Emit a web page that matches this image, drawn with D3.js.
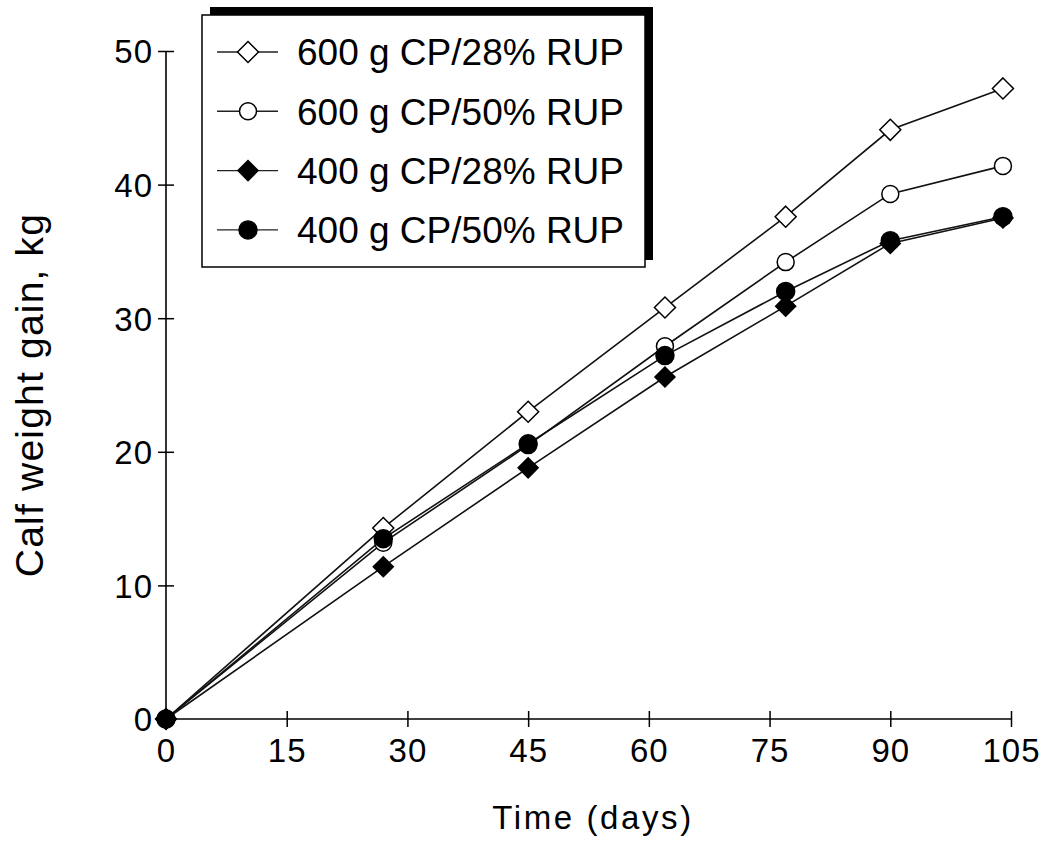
<!DOCTYPE html>
<html>
<head>
<meta charset="utf-8">
<script src="https://cdn.jsdelivr.net/npm/d3@7"></script>
<style>
  html, body { margin: 0; padding: 0; background: #fff; }
  svg { display: block; font-family: "Liberation Sans", Arial, Helvetica, sans-serif; }
</style>
</head>
<body>
<svg id="chart" width="1047" height="850"></svg>
<script>
// Sampling days and calf weight gain (kg) for each treatment
const days = [0, 27, 45, 62, 77, 90, 104];
const cp600rup28 = [0, 14.3, 23.0, 30.8, 37.6, 44.1, 47.2];
const cp600rup50 = [0, 13.2, 20.5, 27.9, 34.2, 39.3, 41.4];
const cp400rup28 = [0, 11.4, 18.8, 25.6, 30.9, 35.6, 37.5];
const cp400rup50 = [0, 13.5, 20.6, 27.2, 32.0, 35.8, 37.6];

const seriesNames = ["600 g CP/28% RUP", "600 g CP/50% RUP", "400 g CP/28% RUP", "400 g CP/50% RUP"];
const xTicks = [0, 15, 30, 45, 60, 75, 90, 105];
const yTicks = [0, 10, 20, 30, 40, 50];

const series = [
  { name: seriesNames[0], values: cp600rup28, shape: "diamond", fill: "#fff" },
  { name: seriesNames[1], values: cp600rup50, shape: "circle",  fill: "#fff" },
  { name: seriesNames[2], values: cp400rup28, shape: "diamond", fill: "#000" },
  { name: seriesNames[3], values: cp400rup50, shape: "circle",  fill: "#000" }
];

const svg = d3.select("#chart");
const x = d3.scaleLinear().domain([0, 105]).range([166, 1011]);
const y = d3.scaleLinear().domain([0, 50]).range([719, 51]);

const symbolPath = (shape, filled) => {
  if (shape === "diamond") {
    const r = filled ? 10 : 10.5;
    return `M0,${-r}L${r},0L0,${r}L${-r},0Z`;
  }
  return d3.arc()({ innerRadius: 0, outerRadius: filled ? 9 : 8.5, startAngle: 0, endAngle: 2 * Math.PI });
};

// Axes with ticks crossing the axis line
const xAxis = svg.append("g")
  .attr("transform", `translate(0,${y(0)})`)
  .call(d3.axisBottom(x).tickValues(xTicks).tickSize(8).tickPadding(0).tickFormat(d3.format("d")));
xAxis.select(".domain").attr("d", `M${x(0)},0H${x(105)}`).attr("stroke", "#000").attr("stroke-width", 1.6);
xAxis.selectAll(".tick line").attr("y1", -8).attr("y2", 8).attr("stroke-width", 1.5);
xAxis.selectAll(".tick text")
  .attr("y", 43).attr("dy", null)
  .style("font-size", "33px").style("letter-spacing", "1px")
  .attr("fill", "#000").attr("font-family", null);

const yAxis = svg.append("g")
  .attr("transform", `translate(${x(0)},0)`)
  .call(d3.axisLeft(y).tickValues(yTicks).tickSize(8).tickPadding(0).tickFormat(d3.format("d")));
yAxis.select(".domain").attr("d", `M0,${y(0)}V${y(50)}`).attr("stroke", "#000").attr("stroke-width", 1.6);
yAxis.selectAll(".tick line").attr("x1", -8).attr("x2", 8).attr("stroke-width", 1.5);
yAxis.selectAll(".tick text")
  .attr("x", -13).attr("dy", "0.36em")
  .style("font-size", "33px").style("letter-spacing", "1px")
  .attr("fill", "#000").attr("font-family", null);
xAxis.attr("font-family", null).attr("font-size", null);
yAxis.attr("font-family", null).attr("font-size", null);

// Axis titles
svg.append("text")
  .attr("x", 593).attr("y", 829)
  .attr("text-anchor", "middle")
  .style("font-size", "33px").style("letter-spacing", "2.6px")
  .text("Time (days)");

svg.append("text")
  .attr("transform", "translate(43,395) rotate(-90)")
  .attr("text-anchor", "middle")
  .style("font-size", "39px").style("letter-spacing", "1.2px")
  .text("Calf weight gain, kg");

// Lines
const line = d3.line().x((d, i) => x(days[i])).y(d => y(d));
svg.append("g").selectAll("path")
  .data(series)
  .join("path")
  .attr("d", s => line(s.values))
  .attr("fill", "none")
  .attr("stroke", "#111")
  .attr("stroke-width", 1.6);

// Markers
series.forEach(s => {
  svg.append("g").selectAll("path")
    .data(s.values)
    .join("path")
    .attr("transform", (d, i) => `translate(${x(days[i])},${y(d)})`)
    .attr("d", symbolPath(s.shape, s.fill === "#000"))
    .attr("fill", s.fill)
    .attr("stroke", "#000")
    .attr("stroke-width", 1.5);
});

// Legend box with offset shadow
const lg = svg.append("g");
lg.append("rect").attr("x", 210).attr("y", 7).attr("width", 443).attr("height", 253).attr("fill", "#000");
lg.append("rect").attr("x", 202).attr("y", 15).attr("width", 443).attr("height", 252)
  .attr("fill", "#fff").attr("stroke", "#000").attr("stroke-width", 1.5);

const rows = lg.selectAll("g.row")
  .data(series)
  .join("g")
  .attr("class", "row")
  .attr("transform", (d, i) => `translate(0,${52 + i * 59.3})`);
rows.append("line").attr("x1", 217).attr("x2", 278).attr("y1", 0).attr("y2", 0)
  .attr("stroke", "#222").attr("stroke-width", 1.4);
rows.append("path")
  .attr("transform", "translate(248,0)")
  .attr("d", s => symbolPath(s.shape, s.fill === "#000"))
  .attr("fill", s => s.fill)
  .attr("stroke", "#000")
  .attr("stroke-width", 1.5);
rows.append("text")
  .attr("x", 297).attr("dy", "0.36em")
  .style("font-size", "37px")
  .text(s => s.name);
</script>
</body>
</html>
